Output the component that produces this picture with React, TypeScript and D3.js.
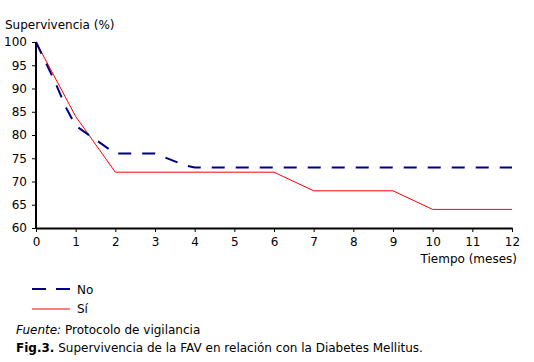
import React, {useEffect, useRef} from 'react';
import * as d3 from 'd3';

// survival curves
const months = [0, 1, 2, 3, 4, 5, 6, 7, 8, 9, 10, 11, 12];
const yTicks = [60, 65, 70, 75, 80, 85, 90, 95, 100];

const noMonths = [0, 0.25, 0.5, 0.75, 1, 1.5, 2, 3, 3.75, 4, 12];
const noValues = [100, 95.5, 91, 86, 82, 79, 76, 76, 73.5, 73, 73];

const siMonths = [0, 1, 2, 6, 7, 9, 10, 12];
const siValues = [100, 84, 72, 72, 68, 68, 64, 64];

const FONT = '"DejaVu Sans", Verdana, sans-serif';

export default function App() {
    const ref = useRef<SVGSVGElement>(null);

    useEffect(() => {
        const svg = d3.select(ref.current);
        svg.selectAll('*').remove();

        const x = d3.scaleLinear().domain([0, 12]).range([36, 512]);
        const y = d3.scaleLinear().domain([60, 100]).range([228, 42]);

        // y axis
        const yAxis = svg.append('g')
            .attr('transform', 'translate(36,0)')
            .call(d3.axisLeft(y).tickValues(yTicks).tickSize(4).tickPadding(5));
        // x axis
        const xAxis = svg.append('g')
            .attr('transform', 'translate(0,228)')
            .call(d3.axisBottom(x).tickValues(months).tickSize(4).tickPadding(5).tickSizeOuter(0));

        [yAxis, xAxis].forEach(a => {
            a.select('.domain').attr('stroke', '#000').attr('stroke-width', 2);
            a.selectAll('.tick line').attr('stroke', '#000').attr('stroke-width', 1);
            a.selectAll('.tick text')
                .attr('fill', '#000')
                .style('font-family', FONT)
                .style('font-size', '12px');
        });
        yAxis.select('.domain').attr('d', `M0,${y(100)}V${y(60) + 1}`);
        yAxis.selectAll('.tick text').attr('x', -9);

        const line = d3.line<[number, number]>()
            .x(d => x(d[0]))
            .y(d => y(d[1]));

        svg.append('path')
            .datum(siMonths.map((m, i) => [m, siValues[i]] as [number, number]))
            .attr('d', line)
            .attr('fill', 'none')
            .attr('stroke', '#ff0000')
            .attr('stroke-width', 1);

        svg.append('path')
            .datum(noMonths.map((m, i) => [m, noValues[i]] as [number, number]))
            .attr('d', line)
            .attr('fill', 'none')
            .attr('stroke', '#000080')
            .attr('stroke-width', 2)
            .attr('stroke-dasharray', '13,11');

        const text = (tx: number, ty: number, s: string, anchor = 'start') =>
            svg.append('text')
                .attr('x', tx)
                .attr('y', ty)
                .attr('text-anchor', anchor)
                .style('font-family', FONT)
                .style('font-size', '12px')
                .attr('fill', '#000')
                .text(s);

        text(5, 29, 'Supervivencia (%)');
        text(517, 263, 'Tiempo (meses)', 'end');

        // legend
        svg.append('line')
            .attr('x1', 32).attr('x2', 70).attr('y1', 289).attr('y2', 289)
            .attr('stroke', '#000080').attr('stroke-width', 2)
            .attr('stroke-dasharray', '14,10');
        text(77, 294, 'No');
        svg.append('line')
            .attr('x1', 32).attr('x2', 70).attr('y1', 309).attr('y2', 309)
            .attr('stroke', '#ff0000').attr('stroke-width', 1);
        text(77, 313, 'Sí');

        const fuente = text(16, 334, '');
        fuente.append('tspan').style('font-style', 'italic').text('Fuente:');
        fuente.append('tspan').text(' Protocolo de vigilancia');

        const fig = text(16, 352, '');
        fig.append('tspan').style('font-weight', 'bold').text('Fig.3.');
        fig.append('tspan').text(' Supervivencia de la FAV en relación con la Diabetes Mellitus.');
    }, []);

    return <svg ref={ref} width={534} height={362}
                style={{position: 'absolute', left: 0, top: 0, background: '#fff'}}/>;
}
